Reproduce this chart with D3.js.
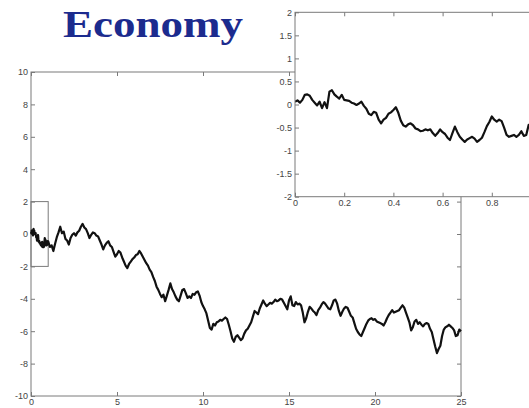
<!DOCTYPE html>
<html>
<head>
<meta charset="utf-8">
<script src="https://cdn.jsdelivr.net/npm/d3@7/dist/d3.min.js"></script>
<style>
  html, body { margin: 0; padding: 0; background: #fff; }
  svg { display: block; }
  .tick text { font-family: "Liberation Sans", Arial, sans-serif; font-size: 9px; fill: #444; }
  .tick line { stroke: #7a7a7a; }
</style>
</head>
<body>
<script>
// Title
const titleText = "Economy";

// Random-walk path: fine samples over the first unit of time (step 0.01)
const fineStep = 0.01;
const fineValues = [
  0.06, 0.09, 0.04, 0.10, 0.21, 0.22, 0.19, 0.10, 0.04, -0.02,
  0.06, -0.08, 0.05, -0.08, 0.28, 0.31, 0.22, 0.17, 0.13, 0.21,
  0.10, 0.09, 0.08, 0.04, 0.02, -0.01, 0.02, 0.06, -0.03, -0.09,
  -0.20, -0.23, -0.16, -0.18, -0.33, -0.41, -0.33, -0.29, -0.20, -0.17,
  -0.12, -0.06, -0.18, -0.35, -0.45, -0.48, -0.43, -0.41, -0.45, -0.52,
  -0.54, -0.58, -0.57, -0.54, -0.56, -0.54, -0.62, -0.68, -0.62, -0.54,
  -0.60, -0.64, -0.72, -0.77, -0.62, -0.48, -0.60, -0.70, -0.76, -0.81,
  -0.76, -0.73, -0.70, -0.74, -0.81, -0.77, -0.72, -0.60, -0.47, -0.38,
  -0.26, -0.33, -0.37, -0.33, -0.36, -0.50, -0.66, -0.70, -0.68, -0.66,
  -0.70, -0.66, -0.58, -0.68, -0.66, -0.44, -0.50, -0.55, -0.50, -0.48,
  -0.45
];

// Remainder of the path, t = 1.0 .. 25.0 (step 0.1)
const coarseStart = 1.0;
const coarseStep = 0.1;
const coarseValues = [
  -0.45, -0.80, -0.70, -1.05, -0.60, -0.20, 0.10, 0.45, 0.05, 0.15,
  -0.30, -0.40, -0.65, -0.25, -0.05, 0.05, -0.10, 0.10, 0.20, 0.45,
  0.62, 0.40, 0.30, 0.05, -0.25, -0.05, 0.10, 0.05, -0.10, -0.15,
  -0.40, -0.65, -0.95, -0.70, -0.55, -0.45, -0.70, -0.80, -1.10, -1.40,
  -1.25, -1.05, -1.15, -1.45, -1.70, -1.95, -2.10, -1.85, -1.70, -1.55,
  -1.45, -1.30, -1.25, -1.05, -1.20, -1.40, -1.60, -1.80, -1.95, -2.20,
  -2.35, -2.65, -2.90, -3.25, -3.45, -3.70, -3.90, -3.75, -4.15, -3.80,
  -3.45, -3.05, -3.40, -3.60, -3.85, -4.05, -4.15, -3.80, -3.45, -3.40,
  -3.65, -3.95, -3.85, -3.95, -3.70, -3.75, -3.60, -3.55, -3.80, -4.20,
  -4.45, -4.65, -4.90, -5.35, -5.80, -5.90, -5.55, -5.65, -5.45, -5.40,
  -5.30, -5.35, -5.25, -5.15, -5.25, -5.60, -6.00, -6.45, -6.65, -6.35,
  -6.25, -6.40, -6.55, -6.45, -6.15, -5.95, -5.85, -5.65, -5.45, -5.10,
  -4.75, -4.85, -4.95, -4.60, -4.35, -4.10, -4.30, -4.45, -4.35, -4.25,
  -4.30, -4.20, -4.05, -4.15, -4.10, -4.00, -4.05, -4.25, -4.45, -4.65,
  -4.10, -3.85, -4.40, -4.45, -4.20, -4.35, -4.30, -4.40, -4.85, -5.45,
  -5.20, -4.80, -4.50, -4.60, -4.75, -4.85, -5.00, -4.70, -4.55, -4.35,
  -4.20, -4.30, -4.45, -4.60, -4.65, -4.40, -4.10, -4.05, -4.30, -4.75,
  -5.05, -4.80, -4.60, -4.50, -4.55, -4.80, -5.05, -5.15, -5.50, -5.85,
  -6.05, -6.20, -6.30, -6.05, -5.80, -5.55, -5.35, -5.25, -5.20, -5.30,
  -5.25, -5.40, -5.45, -5.50, -5.55, -5.65, -5.45, -5.20, -5.00, -4.85,
  -4.70, -4.85, -4.80, -4.75, -4.70, -4.55, -4.40, -4.55, -4.85, -5.15,
  -5.45, -5.95, -5.75, -5.40, -5.30, -5.55, -5.45, -5.60, -5.70, -5.55,
  -5.50, -5.55, -5.85, -6.05, -6.50, -6.95, -7.35, -7.10, -6.90, -6.30,
  -5.90, -5.75, -5.70, -5.60, -5.70, -5.80, -5.95, -6.30, -6.25, -5.90,
  -6.00
];

// Axis domains and tick labels
const mainXDomain = [0, 25];
const mainYDomain = [-10, 10];
const mainXTicks = [0, 5, 10, 15, 20, 25];
const mainYTicks = [-10, -8, -6, -4, -2, 0, 2, 4, 6, 8, 10];
const zoomXDomain = [0, 1];
const zoomYDomain = [-2, 2];
const zoomXTicks = [0, 0.2, 0.4, 0.6, 0.8];
const zoomYTicks = [-2, -1.5, -1, -0.5, 0, 0.5, 1, 1.5, 2];

const W = 529, H = 408;
const fmt = d => String(d);

const finePts = fineValues.map((v, i) => ({ t: i * fineStep, v }));
const coarsePts = coarseValues.map((v, i) => ({ t: coarseStart + i * coarseStep, v }));
const pathPts = finePts.concat(coarsePts.slice(1));

const svg = d3.select("body").append("svg").attr("width", W).attr("height", H);

// ---------- main axes ----------
const m = { left: 31, right: 461, top: 72, bottom: 396 };
const x = d3.scaleLinear().domain(mainXDomain).range([m.left, m.right]);
const y = d3.scaleLinear().domain(mainYDomain).range([m.bottom, m.top]);
const frameColor = "#7a7a7a";

function frame(g, sx, sy) {
  g.append("rect")
    .attr("x", sx.range()[0]).attr("y", sy.range()[1])
    .attr("width", sx.range()[1] - sx.range()[0])
    .attr("height", sy.range()[0] - sy.range()[1])
    .attr("fill", "none").attr("stroke", frameColor).attr("stroke-width", 1);
}

function axes(g, sx, sy, xt, yt) {
  const tl = 4;
  g.append("g").attr("transform", `translate(0,${sy.range()[0]})`)
    .call(d3.axisBottom(sx).tickValues(xt).tickFormat(fmt).tickSizeInner(-tl).tickSizeOuter(0).tickPadding(3))
    .call(a => a.select(".domain").remove());
  g.append("g").attr("transform", `translate(0,${sy.range()[1]})`)
    .call(d3.axisTop(sx).tickValues(xt).tickFormat("").tickSizeInner(-tl).tickSizeOuter(0))
    .call(a => a.select(".domain").remove());
  g.append("g").attr("transform", `translate(${sx.range()[0]},0)`)
    .call(d3.axisLeft(sy).tickValues(yt).tickFormat(fmt).tickSizeInner(-tl).tickSizeOuter(0).tickPadding(3))
    .call(a => a.select(".domain").remove());
  g.append("g").attr("transform", `translate(${sx.range()[1]},0)`)
    .call(d3.axisRight(sy).tickValues(yt).tickFormat("").tickSizeInner(-tl).tickSizeOuter(0))
    .call(a => a.select(".domain").remove());
}

const main = svg.append("g");
axes(main, x, y, mainXTicks, mainYTicks);
frame(main, x, y);

// window of the zoomed view
main.append("rect")
  .attr("x", x(zoomXDomain[0])).attr("y", y(zoomYDomain[1]))
  .attr("width", x(zoomXDomain[1]) - x(zoomXDomain[0]))
  .attr("height", y(zoomYDomain[0]) - y(zoomYDomain[1]))
  .attr("fill", "none").attr("stroke", frameColor).attr("stroke-width", 1);

main.append("path")
  .datum(pathPts)
  .attr("d", d3.line().x(d => x(d.t)).y(d => y(d.v)))
  .attr("fill", "none").attr("stroke", "#111").attr("stroke-width", 2.2)
  .attr("stroke-linejoin", "round");

// ---------- zoomed inset ----------
const z = { left: 295, right: 541, top: 12.3, bottom: 196.7 };
const zx = d3.scaleLinear().domain(zoomXDomain).range([z.left, z.right]);
const zy = d3.scaleLinear().domain(zoomYDomain).range([z.bottom, z.top]);

const inset = svg.append("g");
inset.append("rect")
  .attr("x", z.left).attr("y", z.top)
  .attr("width", z.right - z.left).attr("height", z.bottom - z.top)
  .attr("fill", "#fff");
inset.append("clipPath").attr("id", "zclip").append("rect")
  .attr("x", z.left).attr("y", z.top)
  .attr("width", z.right - z.left).attr("height", z.bottom - z.top);
inset.append("path")
  .datum(finePts)
  .attr("clip-path", "url(#zclip)")
  .attr("d", d3.line().x(d => zx(d.t)).y(d => zy(d.v)))
  .attr("fill", "none").attr("stroke", "#111").attr("stroke-width", 2.2)
  .attr("stroke-linejoin", "round");
axes(inset, zx, zy, zoomXTicks, zoomYTicks);
frame(inset, zx, zy);

// ---------- title ----------
svg.append("text")
  .attr("x", 63).attr("y", 37)
  .attr("textLength", 180).attr("lengthAdjust", "spacingAndGlyphs")
  .style("font-family", "'Liberation Serif', 'Times New Roman', serif")
  .style("font-weight", "bold").style("font-size", "38px")
  .style("fill", "#1c2b8e")
  .text(titleText);
</script>
</body>
</html>
